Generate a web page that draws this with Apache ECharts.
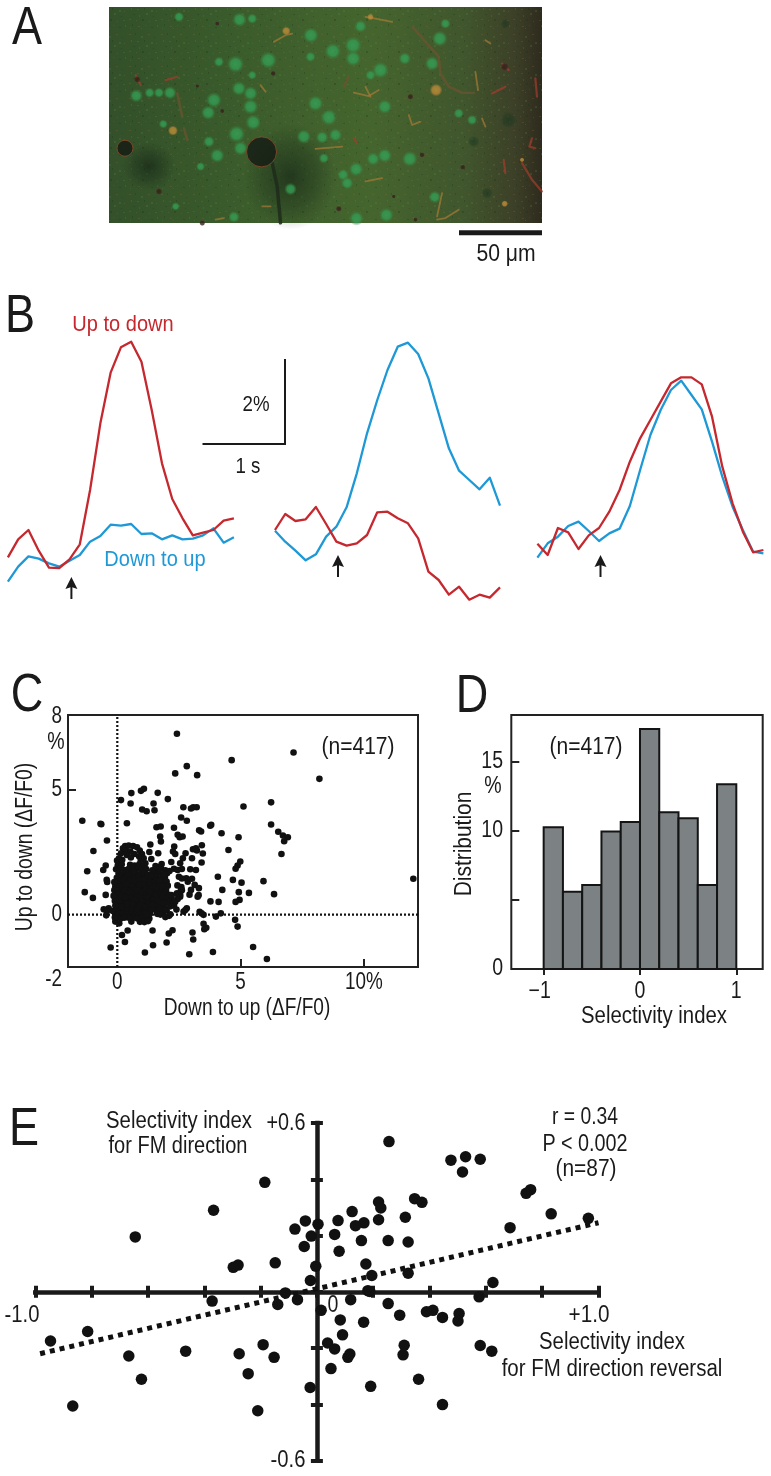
<!DOCTYPE html>
<html><head><meta charset="utf-8">
<style>html,body{margin:0;padding:0;background:#fff}#c{width:771px;height:1476px}</style>
<script src="https://cdn.jsdelivr.net/npm/echarts@6/dist/echarts.min.js"></script>
</head><body><div id="c"></div>
<script>
const FONT='"Liberation Sans",Arial,sans-serif';
const INK='#1a1a1a', RED='#c5282e', BLUE='#1f98d6';

// Panel A: field of view, units of 1/3 px
const aCells=[[210,30,25],[392,38,35],[430,35,25],[606,85,38],[672,133,40],[733,115,42],[733,155,38],[478,160,42],[380,172,42],[605,150,25],[815,190,40],[785,205,25],[888,155,30],[970,170,35],[993,95,38],[755,58,30],[1010,50,25],[390,245,35],[425,260,35],[315,280,38],[298,318,35],[425,300,38],[433,347,38],[183,258,32],[150,258,25],[122,258,25],[82,267,32],[620,290,38],[660,332,40],[828,300,35],[585,390,35],[640,392,30],[680,385,32],[383,382,42],[395,425,35],[325,447,35],[300,405,28],[163,352,22],[793,457,32],[828,447,35],[903,457,38],[742,488,35],[703,505,28],[715,530,30],[645,455,25],[1050,320,25],[1090,340,25],[978,572,30],[743,636,35],[833,626,35],[810,653,30],[375,632,28],[330,165,25],[430,205,22],[275,480,22],[545,548,30],[200,600,20]];
const aDarkCells=[[1190,50,30],[1200,340,50],[1095,405,35],[1135,560,35]];
const aSpecks=[[325,50,14],[905,270,18],[150,555,20],[690,607,18],[280,650,18],[940,445,16],[493,200,16],[340,313,14],[855,570,12],[920,640,14],[85,218,20],[1188,180,24],[1062,482,16],[265,238,12]];
const aOrangeBlobs=[[192,372,30],[982,250,38],[532,72,26],[785,30,20],[1240,460,14],[1188,592,20]];
const aOrangeVessels=[[[1100,195],[1108,250]],[[495,105],[530,85],[550,80]],[[735,258],[780,268],[810,250]],[[770,240],[785,270]],[[1130,100],[1145,110]],[[770,30],[800,35],[850,45]],[[620,427],[700,420]],[[900,325],[910,355],[935,345]],[[985,640],[1010,635],[1050,610]],[[1000,560],[985,630]],[[455,235],[470,255]],[[770,525],[820,515]],[[320,640],[345,635]],[[460,600],[485,600]],[[1120,335],[1130,360]]];
const aRedVessels=[[[1150,260],[1190,240]],[[1280,215],[1285,270]],[[1270,395],[1262,420],[1280,425]],[[1240,470],[1270,520],[1300,555]],[[1185,460],[1190,500]],[[1180,170],[1200,190]],[[80,205],[95,235]],[[170,220],[205,210]],[[735,395],[745,410]]];
const aBrownVessels=[[[912,60],[950,105],[990,150],[995,200],[1020,240],[1060,258],[1095,258]],[[205,260],[220,330]],[[225,365],[235,400]],[[720,210],[705,240]]];
const aShadowTail=[[490,470],[505,540],[515,650]];
const aHole=[[458,436,90]], aHole2=[[48,425,48]];
const aShadows=[[545,510,280,320],[120,480,160,150]];
const aTexture=[[1,2,2,1,0],[7,1,1,2,1],[13,4,2,2,2],[20,2,2,1,0],[26,5,1,1,1],[3,8,1,2,2],[9,9,2,1,0],[16,8,1,2,1],[23,10,2,2,2],[28,11,1,1,0],[5,14,2,1,1],[11,15,1,2,0],[18,13,2,2,2],[25,16,1,1,1],[1,19,2,1,0],[8,20,1,1,2],[14,19,2,2,1],[21,21,1,1,0],[27,20,2,1,2],[4,24,1,2,1],[10,26,2,1,0],[17,25,1,1,2],[23,27,2,1,1],[29,25,1,2,0],[2,28,1,1,2],[13,28,1,1,0]];
const aTextureColors=['rgba(150,105,45,.26)','rgba(22,40,16,.24)','rgba(105,145,70,.2)'];

// Panel B traces: sample-by-sample, in units of 1/127.5 % above the lowest trace level
const bRed1=[188,242,270,208,157,156,182,227,390,590,742,818,835,775,630,470,363,305,254,262,270,298,305];
const bBlue1=[115,160,191,184,170,160,178,195,235,252,286,283,288,258,260,242,254,242,244,254,275,232,248];
const bRed2=[270,318,297,302,339,288,235,223,230,255,323,325,305,290,245,145,120,76,100,61,76,67,98];
const bBlue2=[268,235,208,179,197,250,280,338,440,560,660,750,820,832,798,725,620,515,448,420,392,427,343];
const bRed3=[229,195,276,263,213,254,276,325,390,475,545,600,655,710,728,728,707,610,460,350,265,203,210];
const bBlue3=[187,230,250,282,295,267,237,260,274,342,450,555,630,690,718,675,632,535,430,340,270,205,200];
const bSamples=bRed1.map((_,i)=>i);

// Panel C: Down to up (x), Up to down (y), % dF/F0
const cSparse=[[2.42,7.25],[7.15,6.5],[4.64,6.19],[8.2,5.44],[2.82,5.95],[2.35,5.66],[3.24,5.59],[12.01,1.44],[.57,4.87],[.96,4.96],[1.08,5.04],[1.64,4.88],[2.05,4.63],[.15,4.59],[.54,4.45],[1.47,4.45],[1.51,4.18],[1.01,4.21],[1.19,4.14],[2.68,4.3],[2.99,4.25],[3.08,4.3],[3.22,4.3],[2.59,3.89],[2.82,3.76],[5.12,4.33],[6.24,4.5],[6.24,3.61],[6.53,3.32],[6.72,3.17],[6.92,3.1],[6.77,2.94],[6.66,2.43],[.39,3.66],[-.65,3.62],[-.42,2.97],[1.59,3.5],[1.76,3.53],[2.3,3.48],[1.74,3.13],[1.77,2.93],[2.45,3.2],[2.53,3.1],[2.65,3.13],[3.32,3.38],[3.4,3.33],[3.81,3.6],[3.77,3.56],[4.23,3.26],[4.92,3.1],[4.51,2.59],[1.34,2.81],[1.3,2.51],[1.66,2.46],[1.38,2.23],[2.31,2.73],[2.26,2.53],[2.35,2.43],[2.77,2.46],[2.66,2.26],[2.55,2.06],[2.19,2.11],[2.62,1.83],[3.07,2.62],[3.23,2.57],[3.19,2.66],[3.43,2.78],[3.47,2.45],[3.03,2.26],[3.42,2.09],[2.96,1.82],[3.19,1.79],[4.99,2.13],[4.88,1.97],[4.8,1.84],[4.08,1.52],[4.69,1.39],[5.04,1.28],[5.93,1.34],[6.36,.82],[5.34,.87],[4.93,.9],[4.26,.99],[4.96,.59],[4.8,.51],[3.78,.53],[4.11,.51],[2.8,1.46],[2.86,1.32],[3.03,1.44],[3.14,1.19],[3.31,1.06],[2.99,.99],[2.93,.8],[3.26,.72],[3.3,.78],[2.55,.72],[2.35,.52],[2.82,.25],[2.69,.12],[2.76,.18],[3.34,.11],[3.5,-.01],[3.42,.05],[4,-.08],[4.2,.05],[4.78,-.21],[4.88,-.48],[3.5,-.37],[3.61,-.53],[3.53,-.59],[3.05,-.72],[3.08,-1],[2.24,-.63],[2.09,-.76],[2,-1.12],[1.43,-.64],[1.45,-1.23],[1.12,-1.52],[2.92,-1.59],[3.88,-1.5],[5.51,-1.3],[6.07,-1.78],[-.27,-1.32],[.31,-1.1],[.19,-.82],[.42,-.64],[-1.42,3.76],[-.68,3.64],[-.97,2.55],[-1.22,1.74],[-.47,1.97],[-.57,1.79],[-.43,1.39],[-.41,1.31],[-1.32,.9],[-.99,.67],[-.47,.79],[-.55,.21],[-.35,.25],[-.45,-.03],[-.42,.14],[-.08,-.28],[.08,-.35],[-.05,.05],[-.18,.14],[-.1,-.12]];
const cRing=[[.32,2.75],[.46,2.77],[.64,2.75],[.8,2.7],[.91,2.57],[1,2.43],[1.07,2.26],[1.14,2.06],[.23,2.66],[.15,2.46],[.07,2.26],[-.01,2.17],[.36,2.57],[.53,2.53],[.69,2.43],[.39,2.39],[.88,2.34],[.55,2.29],[.2,2.2],[.95,2.2]];
const cCore=[[.02,1.98],[.18,2.02],[.52,2],[.7,1.97],[.9,2.03],[1.08,1.96],[1.8,2.03],[1.72,1.92],
[-.05,1.82],[.12,1.85],[.3,1.79],[.47,1.84],[.63,1.8],[.83,1.86],[1,1.78],[1.17,1.83],[1.62,1.8],[1.78,1.85],[1.95,1.78],[2.3,1.84],[2.45,1.79],
[.05,1.65],[.2,1.62],[.38,1.67],[.58,1.63],[.74,1.68],[.92,1.62],[1.1,1.66],[1.5,1.63],[1.68,1.68],[1.86,1.62],[2.02,1.66],
[-.02,1.48],[.14,1.51],[.31,1.45],[.49,1.5],[.66,1.46],[.84,1.52],[1.03,1.45],[1.2,1.49],[1.42,1.47],[1.58,1.52],[1.75,1.45],[1.93,1.5],[2.5,1.52],[2.62,1.45],
[.07,1.3],[.24,1.33],[.42,1.28],[.59,1.32],[.77,1.27],[.95,1.33],[1.12,1.29],[1.3,1.31],[1.48,1.27],[1.66,1.34],[1.84,1.28],[2,1.32],
[-.08,1.14],[.1,1.11],[.28,1.16],[.45,1.12],[.63,1.17],[.8,1.1],[.98,1.15],[1.16,1.12],[1.34,1.17],[1.52,1.11],[1.7,1.15],[1.87,1.1],[2.05,1.16],[2.44,1.17],[2.6,1.1],
[-.12,.98],[.05,.96],[.22,1],[.4,.95],[.58,.99],[.75,.96],[.93,1.01],[1.1,.95],[1.28,.99],[1.45,.96],[1.63,1],[1.8,.95],[1.98,.99],[2.62,.98],
[0,.82],[.17,.85],[.35,.8],[.52,.84],[.7,.79],[.87,.85],[1.05,.81],[1.22,.84],[1.4,.79],[1.58,.83],[1.75,.8],[1.93,.85],[2.1,.79],[2.55,.8],
[.08,.66],[.26,.63],[.44,.68],[.61,.64],[.79,.67],[.96,.63],[1.14,.68],[1.32,.64],[1.5,.67],[1.68,.62],[1.85,.67],[2.03,.64],[2.2,.68],[2.45,.63],
[.02,.5],[.19,.47],[.37,.52],[.55,.48],[.72,.51],[.9,.47],[1.07,.52],[1.25,.48],[1.43,.51],[1.6,.47],[1.78,.52],[1.95,.48],[2.12,.5],
[.1,.34],[.28,.37],[.46,.32],[.63,.36],[.81,.31],[.98,.36],[1.16,.33],[1.34,.37],[1.52,.31],[1.7,.36],[1.88,.33],[2.3,.36],
[-.02,.18],[.15,.21],[.33,.16],[.5,.2],[.68,.15],[.86,.2],[1.03,.17],[1.2,.21],[1.58,.16],[1.76,.2],[2,.17],[2.4,.2],
[.05,.03],[.23,.06],[.4,.01],[.58,.05],[.75,0],[.93,.05],[1.08,.02],[1.62,.03],[1.85,.05],[2.15,.01],
[0,-.12],[.16,-.15],[.62,-.1],[.95,-.14],[1.15,-.1],[1.3,-.16],
[.57,-.28],[.92,-.29],[1.1,-.3],[1.25,-.26],
[.13,.58],[.31,.9],[.48,.74],[.68,1.05],[.85,.56],[1.02,1.24],[1.2,.73],[1.38,1.05],[1.55,.76],[1.72,1.38],[.25,1.4],[.55,.25],[.75,.42],[.95,.72],[.43,1.58],[.66,1.72],[.85,1.4],[.17,.74],[.37,.24],[1.45,.58],[1.65,.55],[1.83,1.15],[1.28,.42],[1.05,.9],[.33,.68],[.6,1.22],[.8,1.02],[1,.54],[.22,1.12],[.4,.42],
[1.42,1.78],[1.55,1.95],[1.9,1.6],[2.12,1.75],[2.58,.98],[2.42,.85],[2.2,.78],[2.3,.5],[2.15,.33],[1.95,.2],[1.4,.2],[1.32,.05],[1.75,0],[1.95,-.1],[2.1,-.05],[-.12,1.3],[-.15,.75],[-.1,.55],[-.08,.35],[.65,-.12],[.8,-.15],[1.1,1.42],[1.25,1.6],[1.38,1.55],[1.2,.02],[.45,-.12],[.3,-.12],[1.45,.38],[1.9,.45],
[.28,.98],[.52,1.38],[.72,.58],[.9,1.2],[.48,.9],[.62,.42],[.82,.22],[1.08,.3],[.18,.3],[.38,1.22],[.7,1.38],[.92,.38],[1.18,1.02],[1.32,.92]];
const cXLabels=[0,5,10], cXTicks=[5,10], cYLabels=[-2,0,5,8], cYTicks=[5];

// Panel D: bins of selectivity index and distribution (%)
const dEdges=[-1,-.8,-.6,-.4,-.2,0,.2,.4,.6,.8,1];
const dValues=[10.24,5.59,6.07,9.93,10.63,17.35,11.33,10.89,6.07,13.35];
const dXLabels=[-1,0,1], dYLabels=[0,10,15], dYTicks=[5,10,15];

// Panel E: FM direction reversal (x) vs FM direction (y)
const ePoints=[[.256,.534],[.476,.468],[.528,.48],[.58,.471],[.517,.426],[-.185,.389],[.759,.363],[.743,.35],[-.367,.29],[.832,.277],[.964,.261],[.686,.228],[.219,.319],[.227,.298],[.347,.331],[.373,.318],[.125,.285],[.314,.265],[.219,.256],[.167,.245],[.137,.235],[.075,.253],[.004,.24],[-.041,.252],[-.078,.223],[.063,.204],[-.02,.198],[-.645,.195],[.158,.182],[.253,.182],[.324,.177],[-.045,.161],[.079,.144],[.174,.099],[-.004,.091],[-.148,.103],[-.28,.095],[-.297,.087],[.195,.058],[.324,.066],[-.023,.04],[.625,.033],[-.112,-.004],[.181,.004],[.188,.001],[-.372,-.033],[-.069,-.028],[-.139,-.045],[.12,-.028],[.576,-.018],[.253,-.042],[.015,-.066],[.294,-.083],[.389,-.071],[.412,-.066],[.446,-.091],[.505,-.077],[.501,-.104],[.083,-.1],[.166,-.108],[-.814,-.141],[-.946,-.175],[.091,-.153],[.038,-.182],[.063,-.203],[.31,-.19],[.306,-.224],[.117,-.221],[.11,-.233],[-.191,-.188],[-.276,-.22],[-.152,-.233],[-.668,-.228],[-.466,-.211],[.58,-.191],[.621,-.211],[.05,-.273],[-.244,-.291],[-.623,-.311],[.361,-.311],[-.024,-.34],[.191,-.336],[.446,-.401],[-.867,-.406],[-.21,-.423]];
const eRegression=[[-.983,-.22],[1,.2456]];

const txt=(text,x,y,size,opt={})=>({type:'text',x,y,rotation:opt.rot||0,scaleX:opt.sx||.85,silent:true,
  style:{text,font:`${size}px ${FONT}`,fill:opt.fill||INK,textAlign:opt.align||'center',textVerticalAlign:'middle'}});
const rule=(x1,y1,x2,y2,w)=>({type:'line',silent:true,shape:{x1,y1,x2,y2},style:{stroke:INK,lineWidth:w}});
const arrow=(x,y1,y2)=>[rule(x,y1+8,x,y2,2),{type:'polygon',silent:true,shape:{points:[[x,y1],[x-6,y1+12],[x,y1+10],[x+6,y1+12]]},style:{fill:INK}}];

const glow=(c0,c1,c2,mid)=>new echarts.graphic.RadialGradient(.5,.5,.5,[{offset:0,color:c0},{offset:mid||.65,color:c1},{offset:1,color:c2}]);

const tile=document.createElement('canvas');tile.width=tile.height=32;
const tctx=tile.getContext('2d');
aTexture.forEach(t=>{tctx.fillStyle=aTextureColors[t[4]];tctx.fillRect(t[0],t[1],t[2],t[3]);});

const g=(left,top,width,height,extra={})=>Object.assign({left,top,width,height,containLabel:false},extra);
const grids=[
 g(109,7,433,216),
 g(7.9,300,226,320),g(275,300,225,320),g(537.4,300,226,320),
 g(68,715,350,252,{show:true,borderColor:'#222',borderWidth:2,backgroundColor:'transparent'}),
 g(511.3,715,251.4,254,{show:true,borderColor:'#222',borderWidth:2,backgroundColor:'transparent'}),
 g(35.3,1123,563.2,337.6)
];
const hiddenX=i=>({gridIndex:i,type:'category',data:bSamples,boundaryGap:false,show:false});
const hiddenY=i=>({gridIndex:i,type:'value',min:0,max:960,show:false});
const noLine={show:false,onZero:false};

const eAxisX=pos=>({gridIndex:6,type:'value',min:-1,max:1,interval:.2,position:pos,
  axisLine:{show:pos==='bottom',onZero:true,lineStyle:{color:INK,width:4.5,cap:'square'}},
  axisTick:{show:true,inside:true,length:6,lineStyle:{color:INK,width:4}},axisLabel:{show:false},splitLine:{show:false}});
const eAxisY=pos=>({gridIndex:6,type:'value',min:-.6,max:.6,interval:.2,position:pos,
  axisLine:{show:pos==='left',onZero:true,lineStyle:{color:INK,width:4.5,cap:'square'}},
  axisTick:{show:true,inside:true,length:6,lineStyle:{color:INK,width:4}},axisLabel:{show:false},splitLine:{show:false}});

const xAxes=[
 {gridIndex:0,type:'value',min:0,max:1300,show:false},
 hiddenX(1),hiddenX(2),hiddenX(3),
 {gridIndex:4,type:'value',min:-2,max:12.2,splitLine:{show:false},axisLine:noLine,
  axisTick:{show:true,inside:true,length:8,lineStyle:{color:'#222',width:2},customValues:cXTicks},axisLabel:{show:false}},
 {gridIndex:5,type:'value',min:-1.336,max:1.274,splitLine:{show:false},axisLine:noLine,
  axisTick:{show:true,length:6,lineStyle:{color:'#222',width:2},customValues:dXLabels},axisLabel:{show:false}},
 eAxisX('bottom'),eAxisX('top')
];
const yAxes=[
 {gridIndex:0,type:'value',min:0,max:650,inverse:true,show:false},
 hiddenY(1),hiddenY(2),hiddenY(3),
 {gridIndex:4,type:'value',min:-2.1,max:8,splitLine:{show:false},axisLine:noLine,
  axisTick:{show:true,inside:true,length:8,lineStyle:{color:'#222',width:2},customValues:cYTicks},axisLabel:{show:false}},
 {gridIndex:5,type:'value',min:0,max:18.36,splitLine:{show:false},axisLine:noLine,
  axisTick:{show:true,inside:true,length:8,lineStyle:{color:'#222',width:2},customValues:dYTicks},axisLabel:{show:false}},
 eAxisY('left'),eAxisY('right')
];

const aScatter=(data,color,z,size)=>({type:'scatter',xAxisIndex:0,yAxisIndex:0,silent:true,z,data,clip:true,
  symbolSize:size||(d=>d[2]/3),itemStyle:{color}});
const aLines=(data,color,width,z,opacity)=>({type:'lines',coordinateSystem:'cartesian2d',xAxisIndex:0,yAxisIndex:0,polyline:true,silent:true,z,clip:true,
  data:data.map(coords=>({coords})),lineStyle:{color,width,opacity:opacity||.7,cap:'round',join:'round',curveness:0}});
const trace=(i,data,color)=>({type:'line',xAxisIndex:i,yAxisIndex:i,data,showSymbol:false,silent:true,z:3,
  lineStyle:{color,width:2.3,join:'round'}});
const fieldRect=fill=>(p,api)=>{const a=api.coord([0,0]),b=api.coord([1300,650]);
  return {type:'rect',shape:{x:a[0],y:a[1],width:b[0]-a[0],height:b[1]-a[1]},style:{fill}};};

const series=[
 {type:'custom',xAxisIndex:0,yAxisIndex:0,silent:true,z:1,data:[[0,0]],
  renderItem:fieldRect(new echarts.graphic.LinearGradient(0,0,1,0,[{offset:0,color:'#33502a'},{offset:.25,color:'#395a2b'},{offset:.6,color:'#45652e'},{offset:.82,color:'#40562d'},{offset:.94,color:'#3c3f27'},{offset:1,color:'#2e2b1e'}]))},
 {type:'custom',xAxisIndex:0,yAxisIndex:0,silent:true,z:1,data:[[0,0]],renderItem:fieldRect({image:tile,repeat:'repeat'})},
 aScatter(aShadows,glow('rgba(18,32,20,.78)','rgba(22,40,24,.38)','rgba(30,50,30,0)',.6),2,d=>[d[2]/3,d[3]/3]),
 aScatter(aDarkCells,glow('rgba(24,50,30,.7)','rgba(26,56,32,.5)','rgba(30,60,35,0)'),2),
 aScatter(aCells,glow('#37a35a','#339a52','rgba(56,125,60,.06)',.55),3,d=>d[2]/3*1.25),
 aLines(aBrownVessels,'#6e5230',2.6,4),
 aLines(aOrangeVessels,'#a87a36',1.8,4),
 aLines(aRedVessels,'#a23c2c',2.2,4),
 aScatter(aOrangeBlobs,glow('#c2953a','#b58636','rgba(150,110,50,.1)'),4),
 aScatter(aSpecks,glow('#2a1c18','#3a2520','rgba(90,40,30,.1)'),4),
 aLines([aShadowTail],'#1e2c1a',3.5,5,.85),
 {type:'scatter',xAxisIndex:0,yAxisIndex:0,silent:true,z:6,clip:true,data:aHole.concat(aHole2),symbolSize:d=>d[2]/3,
  itemStyle:{color:'#141a14',borderColor:'#8f4a2c',borderWidth:1}},

 trace(1,bBlue1,BLUE),trace(1,bRed1,RED),
 trace(2,bBlue2,BLUE),trace(2,bRed2,RED),
 trace(3,bBlue3,BLUE),trace(3,bRed3,RED),

 {type:'line',xAxisIndex:4,yAxisIndex:4,silent:true,z:2,showSymbol:false,data:[[0,-2.1],[0,8]],lineStyle:{color:'#111',width:2.2,type:[2,2]}},
 {type:'line',xAxisIndex:4,yAxisIndex:4,silent:true,z:2,showSymbol:false,data:[[-2,0],[12.2,0]],lineStyle:{color:'#111',width:2.2,type:[2,2]}},
 {type:'scatter',xAxisIndex:4,yAxisIndex:4,silent:true,z:3,data:cSparse.concat(cRing,cCore),symbolSize:6.6,itemStyle:{color:'#111',opacity:1}},

 {type:'custom',xAxisIndex:5,yAxisIndex:5,silent:true,z:3,data:dValues.map((v,i)=>[dEdges[i],dEdges[i+1],v]),
  encode:{x:[0,1],y:2},
  renderItem:(p,api)=>{const a=api.coord([api.value(0),api.value(2)]),b=api.coord([api.value(1),0]);
   return {type:'rect',shape:{x:a[0],y:a[1],width:b[0]-a[0],height:b[1]-a[1]},style:{fill:'#7c8184',stroke:'#141414',lineWidth:2}};}},

 {type:'line',xAxisIndex:6,yAxisIndex:6,silent:true,z:2,showSymbol:false,data:eRegression,lineStyle:{color:'#111',width:5,type:[5,5]}},
 {type:'scatter',xAxisIndex:6,yAxisIndex:6,silent:true,z:3,data:ePoints,symbolSize:11.5,itemStyle:{color:'#111',opacity:1}}
];

const BIG=53, TS=23;
const staticText=[
 txt('A',27,29,BIG),txt('B',20,317,BIG),txt('C',27,696,BIG),txt('D',472,697,BIG),txt('E',24,1130,BIG),
 rule(459,232.7,542,232.7,5),txt('50 \u03bcm',506,255,TS,{sx:.92}),
 txt('Up to down',123,325,22,{fill:RED,sx:.91}),txt('Down to up',155,560,22,{fill:BLUE,sx:.91}),
 rule(202.5,444,286,444,2),rule(285,359,285,445,2),txt('2%',256,405,22),txt('1 s',248,467,22),
 ...arrow(71.4,577,599),...arrow(338,555,577),...arrow(600.5,555,577),
 txt('%',56,743,TS),txt('(n=417)',358,748,TS,{sx:.915}),
 txt('Down to up (\u0394F/F0)',247,1009,TS,{sx:.83}),txt('Up to down (\u0394F/F0)',26,847,TS,{rot:Math.PI/2,sx:.84}),
 txt('%',493,787,TS),txt('(n=417)',586,748,TS,{sx:.915}),
 txt('Selectivity index',654,1017,TS,{sx:.885}),txt('Distribution',465,844,TS,{rot:Math.PI/2,sx:.91}),
 txt('Selectivity index',179,1122,TS,{sx:.885}),txt('for FM direction',178,1147,TS,{sx:.87}),
 txt('+0.6',286,1124,TS,{sx:.86}),txt('-0.6',288,1461,TS,{sx:.88}),txt('-1.0',22,1316,TS,{sx:.88}),txt('0',333,1306,TS),txt('+1.0',589,1316,TS,{sx:.9}),
 txt('r = 0.34',585,1118,TS,{sx:.84}),txt('P < 0.002',585,1145,TS,{sx:.86}),txt('(n=87)',586,1170,TS,{sx:.91}),
 txt('Selectivity index',612,1343,TS,{sx:.885}),txt('for FM direction reversal',612,1370,TS,{sx:.89})
];

const chart=echarts.init(document.getElementById('c'),null,{renderer:'canvas',width:771,height:1476});
chart.setOption({animation:false,backgroundColor:'#fff',tooltip:{show:false},grid:grids,xAxis:xAxes,yAxis:yAxes,series});

// tick labels placed through the axis scales
const px=(i,v)=>chart.convertToPixel({xAxisIndex:i},v), py=(i,v)=>chart.convertToPixel({yAxisIndex:i},v);
const tickText=[
 ...cXLabels.map(v=>txt(v===10?'10%':String(v),px(4,v),983,TS,{sx:.82})),
 ...cYLabels.map(v=>txt(String(v),62,v===-2?980:(v===8?717:py(4,v)),TS,{align:'right',sx:.82})),
 ...dXLabels.map(v=>txt(v<0?'\u2212'+(-v):String(v),px(5,v)-(v<0?4:0),992,TS,{sx:.85})),
 ...dYLabels.map(v=>txt(String(v),503,py(5,v),TS,{align:'right',sx:.85}))
];
chart.setOption({graphic:{elements:staticText.concat(tickText)}});
</script></body></html>
